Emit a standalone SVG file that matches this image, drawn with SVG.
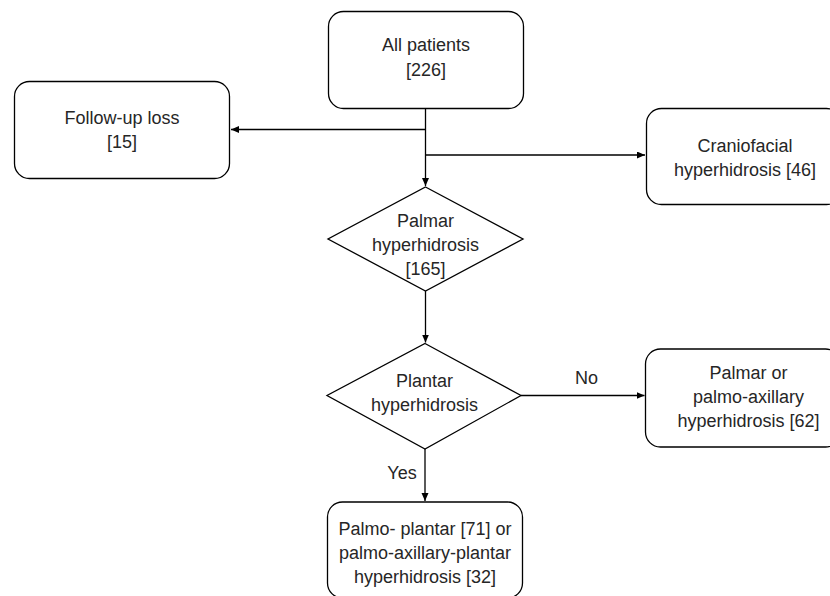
<svg xmlns="http://www.w3.org/2000/svg" width="830" height="596" viewBox="0 0 830 596">
<defs>
<marker id="ah" markerUnits="userSpaceOnUse" markerWidth="9" markerHeight="8" refX="8" refY="3.5" orient="auto">
<path d="M0,0 L8,3.5 L0,7 Z" fill="#000"/>
</marker>
<style>
.box{fill:#fff;stroke:#000;stroke-width:1.3}
.t{font-family:"Liberation Sans",Arial,sans-serif;font-size:18px;fill:#262626;text-anchor:middle}
.c{fill:none;stroke:#000;stroke-width:1.3}
</style>
</defs>
<rect width="830" height="596" fill="#fff"/>
<g id="connectors">
<line class="c" x1="425.5" y1="108" x2="425.5" y2="186" marker-end="url(#ah)"/>
<line class="c" x1="425.5" y1="129.5" x2="231" y2="129.5" marker-end="url(#ah)"/>
<line class="c" x1="425.5" y1="155" x2="645" y2="155" marker-end="url(#ah)"/>
<line class="c" x1="425.5" y1="291" x2="425.5" y2="342.5" marker-end="url(#ah)"/>
<line class="c" x1="521" y1="395.5" x2="644.5" y2="395.5" marker-end="url(#ah)"/>
<line class="c" x1="425" y1="449" x2="425" y2="501" marker-end="url(#ah)"/>
<text class="t" x="586.5" y="384">No</text>
<text class="t" x="402" y="479">Yes</text>
</g>
<g id="n-all">
<rect class="box" x="328.5" y="11.5" width="195" height="97" rx="15"/>
<text class="t" x="426" y="51">All patients</text>
<text class="t" x="426" y="75.5">[226]</text>
</g>
<g id="n-followup">
<rect class="box" x="14.5" y="81.5" width="215" height="97" rx="15"/>
<text class="t" x="122" y="124">Follow-up loss</text>
<text class="t" x="122" y="148">[15]</text>
</g>
<g id="n-cranio">
<rect class="box" x="646.5" y="108.5" width="195" height="96" rx="15"/>
<text class="t" x="745" y="152">Craniofacial</text>
<text class="t" x="745" y="176">hyperhidrosis [46]</text>
</g>
<g id="n-palmar">
<polygon class="box" points="425.5,187 523,239 425.5,291 328,239"/>
<text class="t" x="425.5" y="227">Palmar</text>
<text class="t" x="425.5" y="251">hyperhidrosis</text>
<text class="t" x="425.5" y="275">[165]</text>
</g>
<g id="n-plantar">
<polygon class="box" points="425,343.5 521,395.5 425,449 327,395.5"/>
<text class="t" x="424.5" y="387">Plantar</text>
<text class="t" x="424.5" y="411">hyperhidrosis</text>
</g>
<g id="n-palmo-axillary">
<rect class="box" x="645.5" y="349" width="195" height="98" rx="15"/>
<text class="t" x="748.5" y="379">Palmar or</text>
<text class="t" x="748.5" y="403">palmo-axillary</text>
<text class="t" x="748.5" y="427">hyperhidrosis [62]</text>
</g>
<g id="n-plantar-result">
<rect class="box" x="327.5" y="502" width="195" height="96" rx="15"/>
<text class="t" x="425" y="535">Palmo- plantar [71] or</text>
<text class="t" x="425" y="559">palmo-axillary-plantar</text>
<text class="t" x="425" y="583">hyperhidrosis [32]</text>
</g>
</svg>
